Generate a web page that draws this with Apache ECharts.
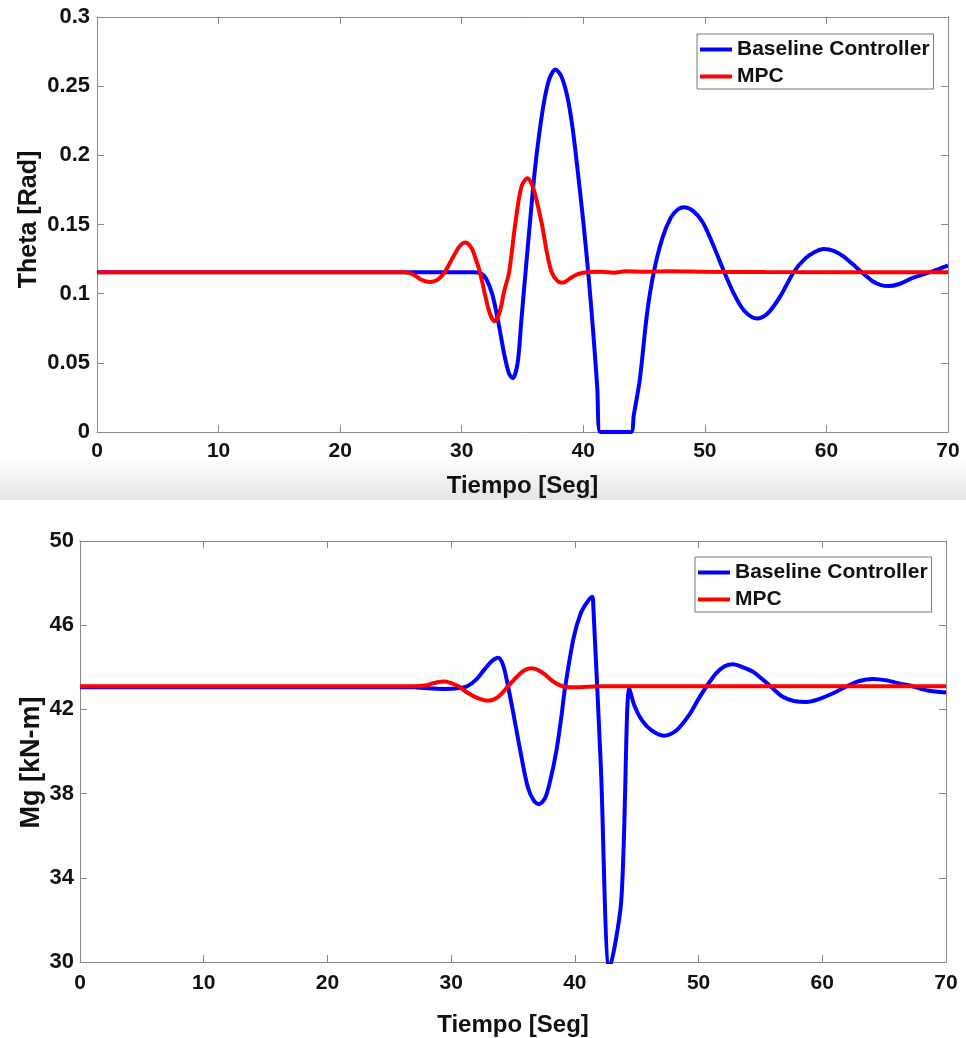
<!DOCTYPE html>
<html>
<head>
<meta charset="utf-8">
<script src="https://cdn.jsdelivr.net/npm/echarts@6/dist/echarts.min.js"></script>
<style>
  html, body { margin: 0; padding: 0; background: #fff; }
  #chart { width: 966px; height: 1038px; }
</style>
</head>
<body>
<div id="chart"></div>
<script>
// [tiempo (s), theta (rad)]
var thetaBaseline = [
  [0, 0.1155], [25, 0.1155], [31.0, 0.1155], [31.6, 0.1145], [32.0, 0.111], [32.5, 0.100],
  [33.0, 0.080], [33.5, 0.056], [33.9, 0.042], [34.2, 0.039], [34.6, 0.050], [34.9, 0.080],
  [35.25, 0.1155], [35.6, 0.150], [36.0, 0.188], [36.4, 0.217], [36.8, 0.240], [37.2, 0.255],
  [37.7, 0.262], [38.2, 0.257], [38.7, 0.242], [39.1, 0.221], [39.5, 0.192], [40.0, 0.152],
  [40.4, 0.116], [40.8, 0.074], [41.15, 0.032], [41.4, 0], [43.9, 0], [44.15, 0.012],
  [44.65, 0.038], [45.25, 0.086], [45.8, 0.1155], [46.5, 0.140], [47.2, 0.155], [47.8, 0.161],
  [48.3, 0.1625], [49.0, 0.160], [49.8, 0.152], [50.6, 0.137], [51.6, 0.1155], [52.5, 0.098],
  [53.3, 0.087], [54.3, 0.082], [55.2, 0.086], [56.2, 0.098], [57.3, 0.1155], [58.2, 0.125],
  [59.0, 0.130], [59.8, 0.1323], [60.6, 0.131], [61.4, 0.127], [62.2, 0.121], [62.9, 0.1155],
  [63.8, 0.109], [64.5, 0.1062], [65.1, 0.1055], [66.0, 0.107], [67.0, 0.111], [68.5, 0.1155],
  [69.3, 0.118], [70, 0.1205]
];
var thetaMPC = [
  [0, 0.1155], [25.3, 0.1155], [26.0, 0.114], [26.7, 0.110], [27.4, 0.1085], [28.0, 0.110],
  [28.6, 0.1155], [29.2, 0.125], [29.8, 0.134], [30.3, 0.137], [30.8, 0.133], [31.2, 0.124],
  [31.5, 0.1155], [31.9, 0.100], [32.3, 0.086], [32.7, 0.080], [33.1, 0.086], [33.5, 0.102],
  [33.9, 0.1155], [34.4, 0.150], [34.9, 0.177], [35.4, 0.1835], [35.9, 0.176], [36.6, 0.150],
  [37.0, 0.130], [37.4, 0.1155], [37.9, 0.109], [38.35, 0.108], [38.9, 0.111], [39.5, 0.114],
  [40.3, 0.1155], [41.5, 0.1158], [42.5, 0.1152], [43.5, 0.1162], [45, 0.1158], [47, 0.1162],
  [50, 0.1158], [55, 0.1156], [70, 0.1155]
];
// [tiempo (s), Mg (kN-m)]
var mgBaseline = [
  [0, 43.05], [27, 43.05], [28, 43.0], [29.5, 42.97], [30.5, 43.0], [31.3, 43.1], [32.0, 43.4],
  [32.7, 43.9], [33.3, 44.3], [33.8, 44.45], [34.2, 44.1], [34.6, 43.1], [35.0, 41.9],
  [35.6, 40.0], [36.2, 38.3], [36.7, 37.65], [37.1, 37.5], [37.6, 37.8], [38.0, 38.6],
  [38.5, 40.0], [38.9, 41.6], [39.2, 43.0], [39.9, 45.4], [40.5, 46.6], [41.0, 47.1],
  [41.4, 47.35], [41.5, 46.8], [42.1, 39.3], [42.8, 29.7], [43.75, 32.9], [44.4, 43.0],
  [44.8, 42.2], [45.4, 41.5], [46.2, 41.0], [47.2, 40.75], [48.2, 41.0], [49.2, 41.7],
  [50.0, 42.5], [50.65, 43.1], [51.4, 43.7], [52.1, 44.05], [52.8, 44.15], [53.6, 44.0],
  [54.5, 43.75], [55.8, 43.1], [56.8, 42.6], [57.7, 42.4], [58.7, 42.35], [59.8, 42.5],
  [61.0, 42.8], [62.0, 43.1], [63.0, 43.35], [64.1, 43.45], [65.2, 43.38], [66.3, 43.22],
  [67.3, 43.1], [68.5, 42.9], [70, 42.8]
];
var mgMPC = [
  [0, 43.1], [27, 43.1], [28, 43.15], [28.8, 43.28], [29.5, 43.32], [30.0, 43.25], [30.6, 43.1],
  [31.3, 42.8], [32.1, 42.55], [33.0, 42.42], [33.8, 42.6], [34.6, 43.1], [35.4, 43.6],
  [36.0, 43.88], [36.5, 43.95], [37.0, 43.88], [37.5, 43.7], [38.3, 43.3], [39.2, 43.07],
  [40, 43.05], [42, 43.1], [70, 43.1]
];
var seriesNames = ['Baseline Controller', 'MPC'];
var mgTicks = [30, 34, 38, 42, 46, 50];

var chart = echarts.init(document.getElementById('chart'));

var frameColor = '#8a8a8a';
var boldFont = 'Liberation Sans, Arial, sans-serif';

function frameAxis(extra) {
  var a = {
    axisLine: { show: true, onZero: false, lineStyle: { color: frameColor, width: 1 } },
    axisTick: { show: true, inside: true, length: 7, lineStyle: { color: frameColor } },
    axisLabel: { show: false },
    splitLine: { show: false }
  };
  return Object.assign(a, extra);
}

function bottomX(grid, gap, margin) {
  return frameAxis({
    type: 'value', gridIndex: grid, position: 'bottom', min: 0, max: 70, interval: 10,
    name: 'Tiempo [Seg]', nameLocation: 'middle', nameGap: gap,
    nameTextStyle: { fontFamily: boldFont, fontWeight: 'bold', fontSize: 24, color: '#111' },
    axisLabel: { show: true, margin: margin, fontFamily: boldFont, fontWeight: 'bold', fontSize: 21, color: '#111' }
  });
}

function legendBox(left, top) {
  return {
    data: seriesNames, left: left, top: top, orient: 'vertical',
    borderColor: '#777', borderWidth: 1, padding: [4, 4, 1, 3],
    icon: 'rect', itemWidth: 32, itemHeight: 4, itemGap: 4, selectedMode: false,
    textStyle: { fontFamily: boldFont, fontWeight: 'bold', fontSize: 21, color: '#111', lineHeight: 23 }
  };
}

function line(name, data, idx, color) {
  return {
    name: name, type: 'line', data: data, xAxisIndex: idx, yAxisIndex: idx,
    showSymbol: false, symbol: 'none', smooth: 0.3,
    lineStyle: { color: color, width: 4 }, itemStyle: { color: color }
  };
}

var option = {
  backgroundColor: '#fff',
  animation: false,
  graphic: [{
    type: 'rect', z: -10, silent: true,
    shape: { x: 0, y: 456, width: 966, height: 44 },
    style: {
      fill: new echarts.graphic.LinearGradient(0, 0, 0, 1, [
        { offset: 0, color: 'rgba(232,232,232,0)' },
        { offset: 1, color: 'rgba(228,228,228,1)' }
      ])
    }
  }],
  legend: [legendBox(697, 34), legendBox(695, 557)],
  grid: [
    { left: 97, top: 17, width: 851, height: 415 },
    { left: 80, top: 541, width: 866, height: 422 }
  ],
  xAxis: [
    bottomX(0, 42, 9),
    bottomX(1, 51, 11),
    frameAxis({ type: 'value', gridIndex: 0, position: 'top', min: 0, max: 70, interval: 10 }),
    frameAxis({ type: 'value', gridIndex: 1, position: 'top', min: 0, max: 70, interval: 10 })
  ],
  yAxis: [
    frameAxis({
      type: 'value', gridIndex: 0, position: 'left', min: 0, max: 0.3, interval: 0.05,
      name: 'Theta [Rad]', nameLocation: 'middle', nameGap: 55, nameMoveOverlap: false,
      nameTextStyle: { fontFamily: boldFont, fontWeight: 'bold', fontSize: 25, color: '#111', padding: [0, 0, 0, 10] },
      axisLabel: { show: true, margin: 7, fontFamily: boldFont, fontWeight: 'bold', fontSize: 22, color: '#111' }
    }),
    frameAxis({
      type: 'value', gridIndex: 1, position: 'left', min: 30, max: 50,
      name: 'Mg [kN-m]', nameLocation: 'middle', nameGap: 35, nameMoveOverlap: false,
      nameTextStyle: { fontFamily: boldFont, fontWeight: 'bold', fontSize: 27, color: '#111', padding: [0, 22, 0, 0] },
      axisTick: { show: true, inside: true, length: 7, customValues: mgTicks, lineStyle: { color: frameColor } },
      axisLabel: { show: true, margin: 6, customValues: mgTicks, fontFamily: boldFont, fontWeight: 'bold', fontSize: 22, color: '#111' }
    }),
    frameAxis({ type: 'value', gridIndex: 0, position: 'right', min: 0, max: 0.3, interval: 0.05 }),
    frameAxis({
      type: 'value', gridIndex: 1, position: 'right', min: 30, max: 50,
      axisTick: { show: true, inside: true, length: 7, customValues: mgTicks, lineStyle: { color: frameColor } }
    })
  ],
  series: [
    line(seriesNames[0], thetaBaseline, 0, '#0000ff'),
    line(seriesNames[1], thetaMPC, 0, '#ff0000'),
    line(seriesNames[0], mgBaseline, 1, '#0000ff'),
    line(seriesNames[1], mgMPC, 1, '#ff0000')
  ]
};

chart.setOption(option);
</script>
</body>
</html>
